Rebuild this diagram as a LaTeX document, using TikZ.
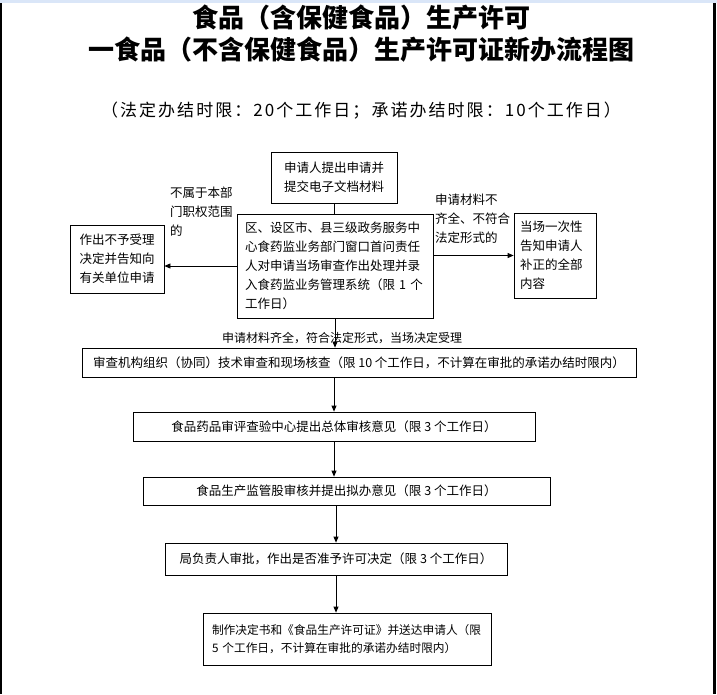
\documentclass[tikz,border=0pt]{standalone}
\usepackage{fontspec}
\setmainfont{Noto Sans CJK SC}
\usetikzlibrary{arrows.meta}
\definecolor{topbar}{RGB}{218,230,248}

\begin{document}
\begin{tikzpicture}[x=1pt,y=-1pt,
  box/.style={draw,line width=0.8pt,inner sep=0pt,font=\fontsize{12.5}{19}\selectfont},
  lbl/.style={inner sep=0pt,font=\fontsize{12.5}{19}\selectfont},
  arr/.style={line width=0.8pt,-{Triangle[length=6pt,width=5pt]}}]
%\draw[help lines] (0,0) grid (717,694);
\useasboundingbox (0,0) rectangle (717,694);

% window edges
\fill[topbar] (0,0) rectangle (717,3);
\fill (0,3) rectangle (1.5,694);
\fill (713,3) rectangle (716,694);

% headings
\node[font=\fontsize{26}{32}\selectfont\bfseries] at (361,18) (title1) {食品（含保健食品）生产许可};
\node[font=\fontsize{26}{32}\selectfont\bfseries] at (361,50) (title2) {一食品（不含保健食品）生产许可证新办流程图};
\node[font=\fontsize{17}{20}\selectfont\addfontfeature{LetterSpace=12}] at (361,111) (limits) {（法定办结时限：20个工作日；承诺办结时限：10个工作日）};

% acceptance
\node[box,minimum width=126pt,minimum height=51pt,align=center] at (334,177.5) (top) {申请人提出申请并\\提交电子文档材料};
\node[box,minimum width=196pt,minimum height=104pt,text width=180pt,align=left] at (335,266) (main)
  {区、设区市、县三级政务服务中\\心食药监业务部门窗口首问责任\\人对申请当场审查作出处理并录\\入食药监业务管理系统（限 1 个\\工作日）};
\node[box,minimum width=94pt,minimum height=68pt,align=center] at (117,259) (left) {作出不予受理\\决定并告知向\\有关单位申请};
\node[box,minimum width=82pt,minimum height=85pt,text width=70pt,align=left] at (555,255.5) (right) {当场一次性\\告知申请人\\补正的全部\\内容};

\node[lbl,align=left,anchor=west] at (170,212) (lblno) {不属于本部\\门职权范围\\的};
\node[lbl,align=left,anchor=west] at (435,219) (lblbad) {申请材料不\\齐全、不符合\\法定形式的};
\node[lbl,font=\fontsize{12}{19}\selectfont] at (342,338) (lblok) {申请材料齐全，符合法定形式，当场决定受理};

% review chain
\node[box,minimum width=554pt,minimum height=29pt] at (359,362.5) (b6) {审查机构组织（协同）技术审查和现场核查（限 10 个工作日，不计算在审批的承诺办结时限内）};
\node[box,minimum width=402pt,minimum height=29pt] at (334,426.5) (b7) {食品药品审评查验中心提出总体审核意见（限 3 个工作日）};
\node[box,minimum width=407pt,minimum height=28pt] at (346.5,491) (b8) {食品生产监管股审核并提出拟办意见（限 3 个工作日）};
\node[box,minimum width=342pt,minimum height=32pt] at (336,559) (b9) {局负责人审批，作出是否准予许可决定（限 3 个工作日）};
\node[box,minimum width=288pt,minimum height=52pt,text width=270pt,align=left,font=\fontsize{11.7}{18}\selectfont] at (347,639) (b10)
  {制作决定书和《食品生产许可证》并送达申请人（限\\5 个工作日，不计算在审批的承诺办结时限内）};

% connectors
\draw[line width=0.8pt] (top.south) -- (top.south |- main.north);
\draw[arr] (main.west) -- (main.west -| left.east);
\draw[arr] (main.east |- right.west) -- (right.west);
\draw[arr] (main.south) -- (main.south |- b6.north);
\draw[arr] (b7.north |- b6.south) -- (b7.north);
\draw[arr] (b7.south) -- (b7.south |- b8.north);
\draw[arr] (b9.north |- b8.south) -- (b9.north);
\draw[arr] (b9.south) -- (b9.south |- b10.north);

\end{tikzpicture}
\end{document}
